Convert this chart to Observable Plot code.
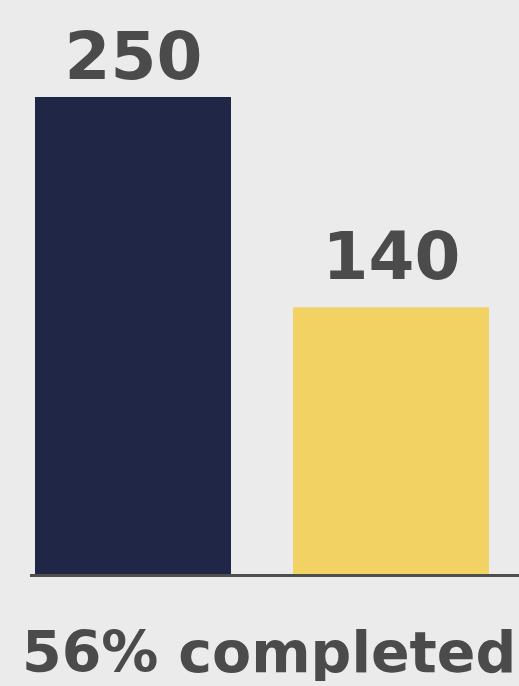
<!DOCTYPE html>
<html>
<head>
<meta charset="utf-8">
<script src="https://cdn.jsdelivr.net/npm/d3@7"></script>
<script src="https://cdn.jsdelivr.net/npm/@observablehq/plot@0.6"></script>
<style>
  html, body { margin: 0; padding: 0; background: #ebebeb; }
  #chart svg { display: block; background: #ebebeb; overflow: visible; }
  #caption {
    font-family: "DejaVu Sans", sans-serif;
    font-weight: bold;
    font-size: 57px;
    line-height: 1;
    color: #4b4b4b;
    margin-top: 34px;
    padding-left: 22px;
    white-space: nowrap;
  }
</style>
</head>
<body>
<div id="chart"></div>
<div id="caption"></div>
<script>
const categories = ["Goal", "Completed"];
const values = [250, 140];
const valueLabels = ["250", "140"];
const colors = ["#1f2646", "#f1d263"];
const captionText = "56% completed";

const data = categories.map((c, i) => ({cat: c, value: values[i], label: valueLabels[i], color: colors[i]}));

const labelStyle = {
  x: "cat", y: "value", text: "label",
  lineAnchor: "bottom",
  fontSize: 66, fontWeight: "bold",
  fontFamily: "DejaVu Sans, sans-serif",
  fill: "#4b4b4b"
};

const chart = Plot.plot({
  width: 519,
  height: 590,
  marginTop: 97,
  marginBottom: 15,
  marginLeft: 30,
  marginRight: 0,
  style: {background: "#ebebeb"},
  x: {domain: categories, paddingInner: 0.24, paddingOuter: 0.066, align: 0.14, axis: null},
  y: {domain: [0, 250], axis: null},
  marks: [
    Plot.barY(data, {x: "cat", y: "value", fill: "color"}),
    Plot.ruleY([0], {stroke: "#4e4e4e", strokeWidth: 3}),
    Plot.text(data, {...labelStyle, filter: (d, i) => i === 0, dy: -19}),
    Plot.text(data, {...labelStyle, filter: (d, i) => i === 1, dy: -29})
  ]
});
document.getElementById("chart").appendChild(chart);
document.getElementById("caption").textContent = captionText;
</script>
</body>
</html>
